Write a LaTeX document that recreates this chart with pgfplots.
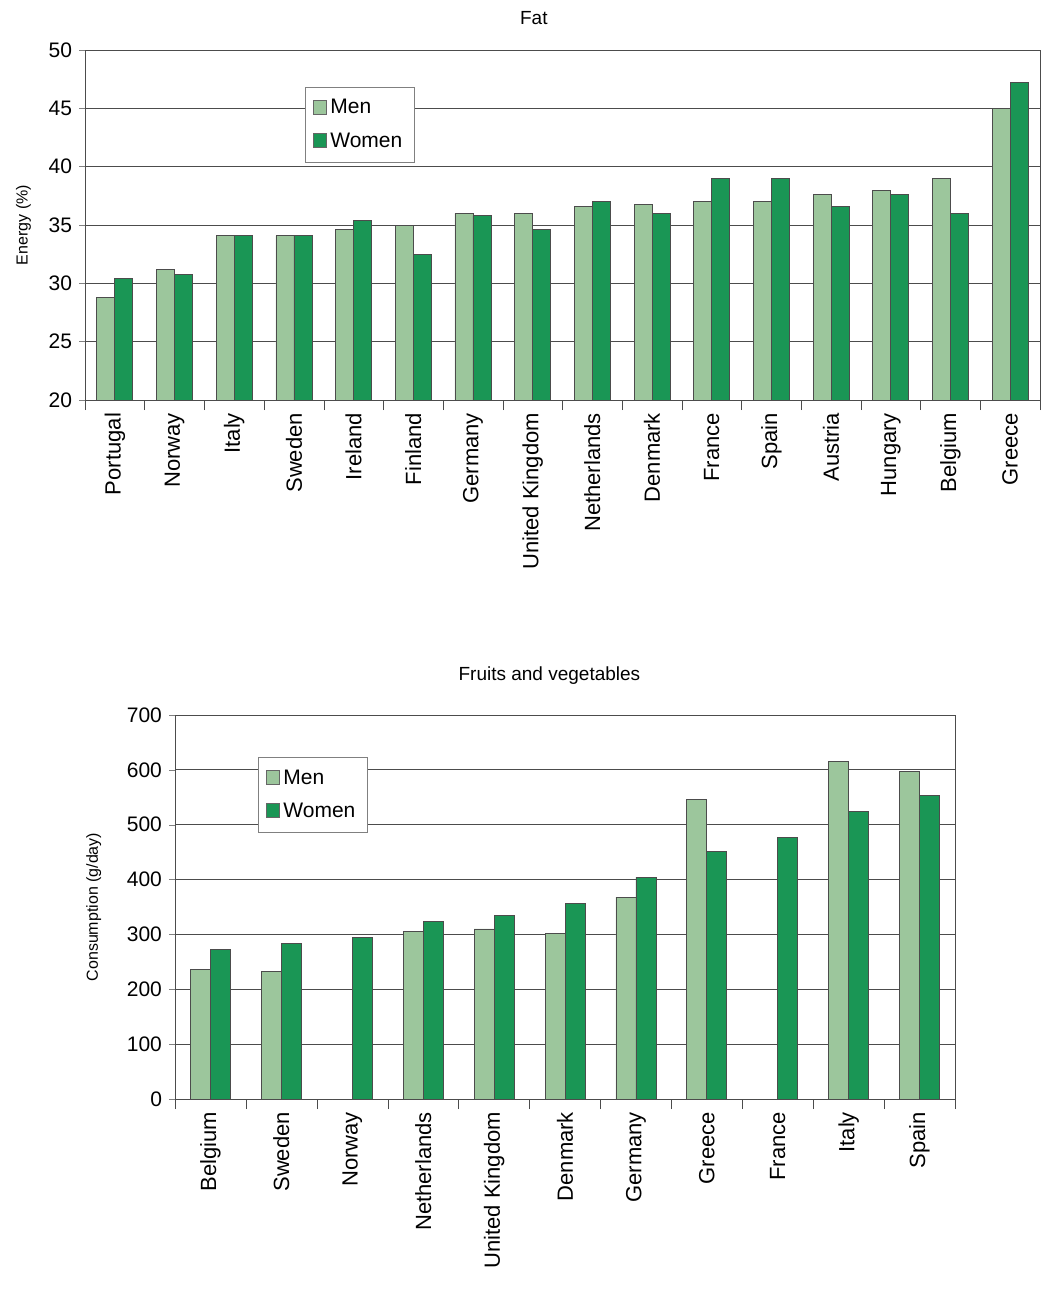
\documentclass[border=0pt]{standalone}
\usepackage{pgfplots}
\pgfplotsset{compat=1.18}
\usepackage{fontspec}
\setmainfont{Liberation Sans}
\definecolor{men}{HTML}{9CC69C}
\definecolor{women}{HTML}{1A9655}
\begin{document}
\begin{tikzpicture}
\useasboundingbox (0,0) rectangle (520pt,-647pt);
\pgfplotsset{
 every axis/.append style={
  scale only axis, ybar=0pt, ymajorgrids, major grid style={black!70, line width=0.5pt},
  axis line style={black!70}, 
  /pgf/number format/assume math mode=true,
  tick label style={font=\fontsize{10.5}{12}\selectfont},
  x tick label style={rotate=90, anchor=east, font=\fontsize{11}{13}\selectfont},
  major x tick style={draw=none},
  minor x tick style={black!70}, minor tick length=5pt,
  major tick length=3pt, tick align=outside,
  ytick pos=left, xtick pos=bottom,
  title style={font=\fontsize{9.5}{11}\selectfont},
  ylabel style={font=\fontsize{8}{10}\selectfont},
  legend cell align=left,
  legend style={font=\fontsize{10.5}{12}\selectfont, draw=black!50, fill=white, row sep=4pt, inner sep=4pt},
  legend image code/.code={\draw[#1, draw=black!60] (0cm,-0.1cm) rectangle (0.22cm,0.14cm);},
 }}
\begin{axis}[at={(42.5pt,-200pt)}, anchor=south west, width=477.5pt, height=175pt,
  ymin=20, ymax=50, ytick={20,25,...,50},
  xmin=-0.5, xmax=15.5, xtick={0,...,15}, minor xtick={-0.5,0.5,...,15.5},
  xticklabels={Portugal,Norway,Italy,Sweden,Ireland,Finland,Germany,United Kingdom,Netherlands,Denmark,France,Spain,Austria,Hungary,Belgium,Greece},
  bar width=9pt,
  title={Fat}, title style={at={(0.47,1)}, yshift=3pt},
  ylabel={Energy (\%)}, ylabel style={yshift=2pt},
  legend style={at={(0.23,0.894)}, anchor=north west}]
\addplot[fill=men, draw=black!70, line width=0.4pt] coordinates {(0,28.8)(1,31.2)(2,34.1)(3,34.1)(4,34.6)(5,35)(6,36)(7,36)(8,36.6)(9,36.8)(10,37)(11,37)(12,37.6)(13,38)(14,39)(15,45)};
\addplot[fill=women, draw=black!70, line width=0.4pt] coordinates {(0,30.4)(1,30.8)(2,34.1)(3,34.1)(4,35.4)(5,32.5)(6,35.8)(7,34.6)(8,37)(9,36)(10,39)(11,39)(12,36.6)(13,37.6)(14,36)(15,47.2)};
\legend{Men,Women}
\end{axis}
\begin{axis}[at={(87.5pt,-549.5pt)}, anchor=south west, width=390pt, height=192pt,
  ymin=0, ymax=700, ytick={0,100,...,700},
  xmin=-0.5, xmax=10.5, xtick={0,...,10}, minor xtick={-0.5,0.5,...,10.5},
  xticklabels={Belgium,Sweden,Norway,Netherlands,United Kingdom,Denmark,Germany,Greece,France,Italy,Spain},
  bar width=10pt,
  title={Fruits and vegetables}, title style={at={(0.48,1)}, yshift=6pt},
  ylabel={Consumption (g/day)}, ylabel style={yshift=6pt},
  legend style={at={(0.106,0.89)}, anchor=north west}]
\addplot[fill=men, draw=black!70, line width=0.4pt] coordinates {(0,236)(1,232)(2,0)(3,306)(4,310)(5,302)(6,368)(7,546)(8,0)(9,616)(10,597)};
\addplot[fill=women, draw=black!70, line width=0.4pt] coordinates {(0,273)(1,284)(2,295)(3,324)(4,335)(5,357)(6,404)(7,452)(8,477)(9,525)(10,554)};
\legend{Men,Women}
\end{axis}
\end{tikzpicture}
\end{document}
